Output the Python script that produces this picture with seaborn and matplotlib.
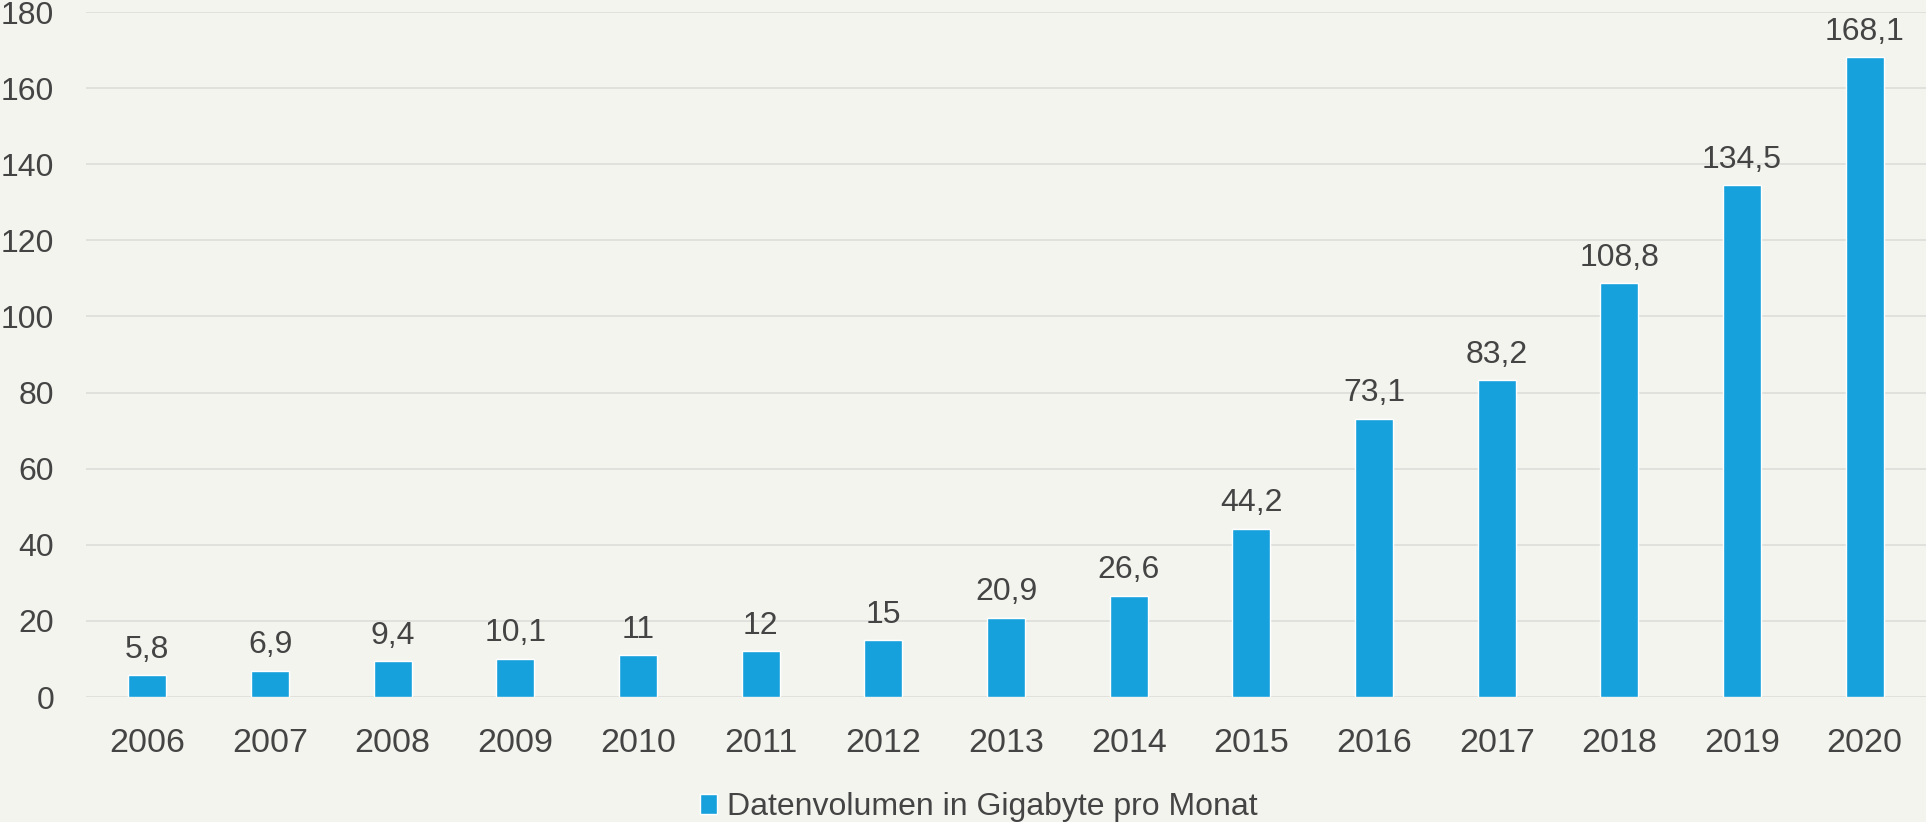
import matplotlib
matplotlib.use('Agg')
import matplotlib.pyplot as plt
import seaborn as sns
import pandas as pd

# Daten
jahre = ['2006', '2007', '2008', '2009', '2010', '2011', '2012', '2013',
         '2014', '2015', '2016', '2017', '2018', '2019', '2020']
werte = [5.8, 6.9, 9.4, 10.1, 11, 12, 15, 20.9, 26.6, 44.2, 73.1, 83.2, 108.8, 134.5, 168.1]
reihe = 'Datenvolumen in Gigabyte pro Monat'

df = pd.DataFrame({'jahr': jahre, 'wert': werte})

bg = '#f4f4ef'
blau = '#16a0dc'
grau = '#444444'

sns.set_theme(style='white')
plt.rcParams['font.family'] = ['Liberation Sans', 'DejaVu Sans']

fig = plt.figure(figsize=(19.26, 8.22), dpi=100, facecolor=bg)
ax = fig.add_axes([0.0447, 0.152, 0.9553, 0.8334])
ax.set_facecolor(bg)

sns.barplot(data=df, x='jahr', y='wert', color=blau, width=0.31,
            saturation=1, label=reihe, ax=ax)

ax.set_ylim(0, 180)
ax.set_yticks(range(0, 181, 20))
ax.grid(axis='y', color='#e0e0dc', linewidth=1.4)
ax.set_axisbelow(True)
for s in ax.spines.values():
    s.set_visible(False)
ax.tick_params(axis='y', length=0, labelsize=23, colors=grau, pad=23)
ax.tick_params(axis='x', length=0, labelsize=24.5, colors=grau, pad=22)
ax.set_xlabel('')
ax.set_ylabel('')

# Werte ueber den Balken
for i, v in enumerate(werte):
    txt = ('%g' % v).replace('.', ',')
    ax.annotate(txt, (i, v), xytext=(0, 12.5), textcoords='offset points',
                ha='center', va='baseline', fontsize=23, color=grau)

ax.legend(loc='lower center', bbox_to_anchor=(0.508, -0.016), bbox_transform=fig.transFigure,
          frameon=False, handlelength=0.55, handleheight=0.55,
          handletextpad=0.3, labelcolor=grau, borderaxespad=0, fontsize=23)

fig.savefig('out.png', dpi=100, facecolor=bg)
